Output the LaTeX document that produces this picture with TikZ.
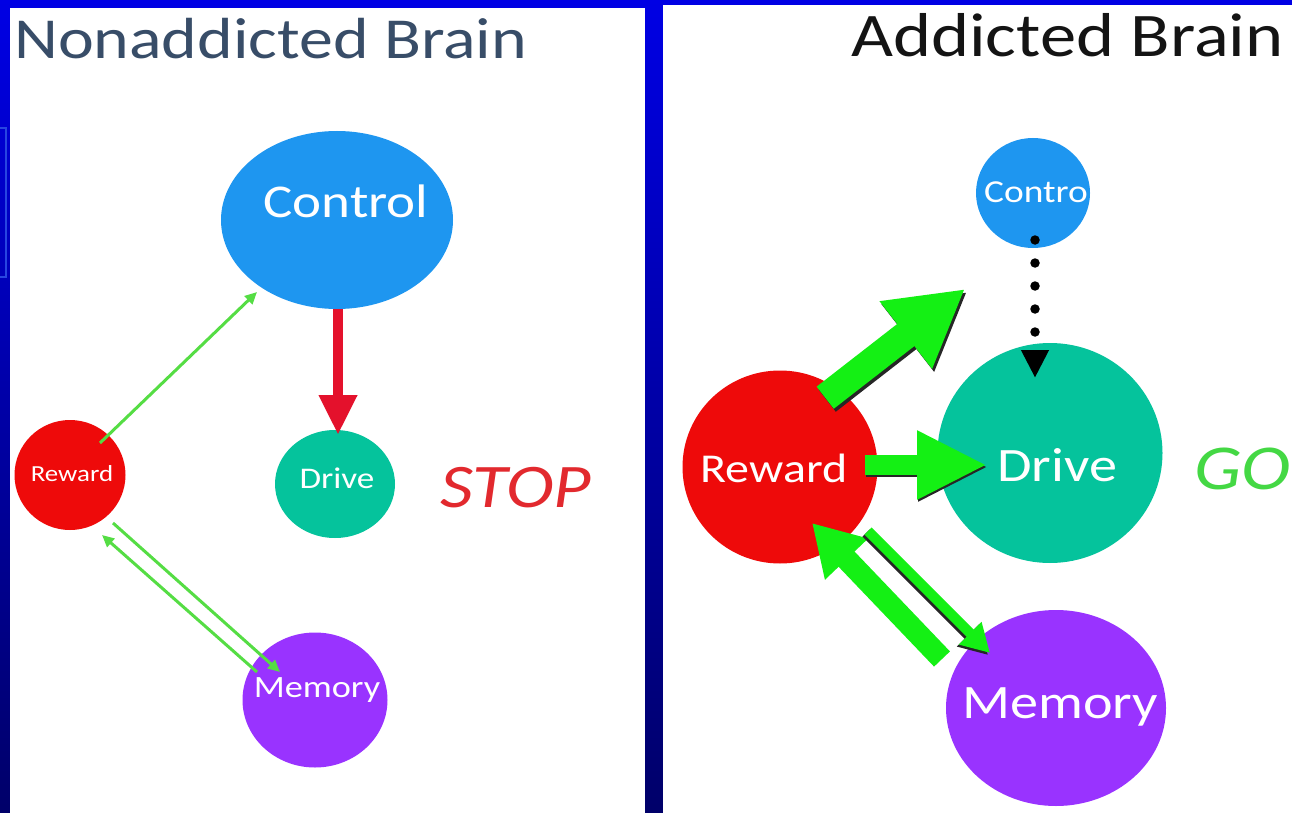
\documentclass[tikz,border=0pt]{standalone}
\usepackage{fontspec}
\setmainfont{Carlito}
\usepackage{graphicx}
\usetikzlibrary{shapes.geometric,arrows.meta,calc}
\definecolor{bgtop}{RGB}{0,0,228}
\definecolor{bgbot}{RGB}{0,0,105}
\definecolor{edgeblue}{RGB}{40,70,225}
\definecolor{ctrlblue}{HTML}{1E96F0}
\definecolor{driveteal}{HTML}{05C39C}
\definecolor{rewred}{HTML}{EE0A0A}
\definecolor{mempurple}{HTML}{9933FF}
\definecolor{biggreen}{HTML}{14F014}
\definecolor{thingreen}{HTML}{55DD44}
\definecolor{stopred}{HTML}{E4112C}
\definecolor{stoptext}{HTML}{E2292E}
\definecolor{gotext}{HTML}{44D844}
\definecolor{titleblue}{HTML}{384D68}
\definecolor{titleblack}{HTML}{141414}
\newcommand\hstretch[1]{\scalebox{1.17}[1]{#1}}
\newcommand\fsz[1]{\fontsize{#1}{#1}\selectfont}
\begin{document}
\begin{tikzpicture}[x=1pt,y=-1pt,
  blob/.style={ellipse, inner sep=0pt, draw=none},
  lbl/.style={text=white, anchor=base, inner sep=0pt},
  thinarrow/.style={draw=thingreen, line width=3pt, -{Triangle[length=12pt,width=11pt]}},
  redarrow/.style={draw=stopred, line width=10pt, -{Triangle[length=40pt,width=36pt]}},
  dotarrow/.style={draw=black, line width=9.5pt, line cap=round, dash pattern=on 0pt off 23pt, -{Triangle[length=28pt,width=26pt]}},
  bigarrow/.style={draw=biggreen, color=biggreen},
  shadowarrow/.style={draw=black!85, color=black!85}
]
\useasboundingbox (0,0) rectangle (1292,813);
% background
\shade[top color=bgtop,bottom color=bgbot] (0,0) rectangle (1292,813);
\draw[edgeblue, line width=1.5pt] (-2,128) rectangle (6,277);
\fill[white] (10,8) rectangle (645,813);
\fill[white] (663,5) rectangle (1292,813);

% ---------- left panel ----------
\node[anchor=base west, inner sep=0pt, text=titleblue, font=\fsz{58}] (titleL) at (14,59) {\hstretch{Nonaddicted Brain}};
\node[blob, fill=ctrlblue, minimum width=232pt, minimum height=178pt] (ctrlL) at (337,220) {};
\node[blob, fill=driveteal, minimum width=120pt, minimum height=108pt] (driveL) at (335,484) {};
\node[blob, fill=rewred, minimum width=111pt, minimum height=110pt] (rewL) at (70,475) {};
\node[blob, fill=mempurple, minimum width=145pt, minimum height=135pt] (memL) at (315,700) {};

\draw[redarrow] ($(ctrlL)+(1,89)$) -- ($(driveL)+(3,-49)$);
\draw[thinarrow] ($(rewL)+(30,-32)$) -- ($(ctrlL)+(-80,72)$);
\draw[thinarrow] ($(rewL)+(43,48)$) -- ($(memL)+(-35,-28)$);
\draw[thinarrow] ($(memL)+(-58,-28)$) -- ($(rewL)+(32,60)$);

\node[lbl, font=\fsz{47}] (ctrlLt) at (346,218) {\hstretch{Control}};
\node[lbl, font=\fsz{30}] (driveLt) at (337,488) {\hstretch{Drive}};
\node[lbl, font=\fsz{23}] (rewLt) at (72,481) {\hstretch{Reward}};
\node[lbl, font=\fsz{31}] (memLt) at (317,697) {\hstretch{Memory}};
\node[anchor=base, inner sep=0pt, text=stoptext, font=\fsz{62}\itshape] (stop) at (516,507) {\hstretch{STOP}};

% ---------- right panel ----------
\node[anchor=base west, inner sep=0pt, text=titleblack, font=\fsz{62}] (titleR) at (851,57) {\hstretch{Addicted Brain}};
\node[blob, fill=ctrlblue, minimum width=114pt, minimum height=110pt] (ctrlR) at (1033,193) {};
\node[blob, fill=driveteal, minimum width=225pt, minimum height=220pt] (driveR) at (1050,453) {};
\node[blob, fill=rewred, minimum width=195pt, minimum height=193pt] (rewR) at (780,467) {};
\node[blob, fill=mempurple, minimum width=220pt, minimum height=196pt] (memR) at (1056,708) {};
\coordinate (upTip) at (965,289);

\draw[dotarrow] ($(ctrlR)+(2,47)$) -- ($(driveR)+(-15,-75)$);

% up-right block arrow
\draw[shadowarrow, line width=28pt, -{Triangle[length=75pt,width=80pt]}, shorten <=-15pt, transform canvas={shift={(2,3)}}] (rewR.54) -- (upTip);
\draw[bigarrow, line width=28pt, -{Triangle[length=75pt,width=80pt]}, shorten <=-15pt] (rewR.54) -- (upTip);
% horizontal block arrow
\draw[shadowarrow, line width=20pt, -{Triangle[length=70pt,width=64pt]}, transform canvas={shift={(1,2)}}] ($(rewR)+(85,-2)$) -- ($(driveR)+(-63,12)$);
\draw[bigarrow, line width=20pt, -{Triangle[length=70pt,width=64pt]}] ($(rewR)+(85,-2)$) -- ($(driveR)+(-63,12)$);
% memory -> reward block arrow
\draw[bigarrow, line width=22pt, -{Triangle[length=50pt,width=56pt]}] ($(memR)+(-114,-49)$) -- ($(rewR)+(32,56)$);
% reward -> memory outlined arrow
\draw[shadowarrow, line width=10pt, -{Triangle[length=28pt,width=30pt]}, transform canvas={shift={(-2,2)}}] ($(rewR)+(88,64)$) -- ($(memR)+(-66,-55)$);
\draw[bigarrow, line width=10pt, -{Triangle[length=28pt,width=30pt]}] ($(rewR)+(88,64)$) -- ($(memR)+(-66,-55)$);

\node[lbl, font=\fsz{32}] (ctrlRt) at (1036,203) {\hstretch{Contro}};
\node[lbl, font=\fsz{48}] (driveRt) at (1057,481) {\hstretch{Drive}};
\node[lbl, font=\fsz{41}] (rewRt) at (774,482) {\hstretch{Reward}};
\node[lbl, font=\fsz{48}] (memRt) at (1060,718) {\hstretch{Memory}};
\node[anchor=base west, inner sep=0pt, text=gotext, font=\fsz{64}\itshape] (go) at (1194,489) {\hstretch{GO}};
\end{tikzpicture}
\end{document}
